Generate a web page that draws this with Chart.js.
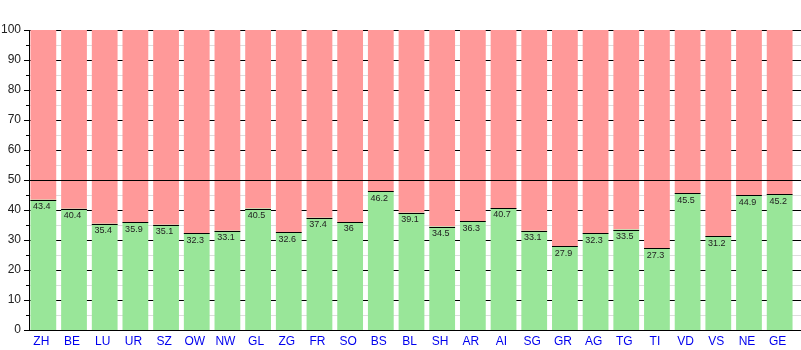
<!DOCTYPE html>
<html>
<head>
<meta charset="utf-8">
<script src="https://cdn.jsdelivr.net/npm/chart.js@4"></script>
<style>
  body { margin: 0; background: #fff; }
  canvas { display: block; }
</style>
</head>
<body>
<canvas id="chart" width="801" height="350"></canvas>
<script>
const cantons = ["ZH", "BE", "LU", "UR", "SZ", "OW", "NW", "GL", "ZG", "FR", "SO", "BS", "BL",
  "SH", "AR", "AI", "SG", "GR", "AG", "TG", "TI", "VD", "VS", "NE", "GE"];
const yesShare = [43.4, 40.4, 35.4, 35.9, 35.1, 32.3, 33.1, 40.5, 32.6, 37.4, 36, 46.2, 39.1,
  34.5, 36.3, 40.7, 33.1, 27.9, 32.3, 33.5, 27.3, 45.5, 31.2, 44.9, 45.2];
const noShare = [56.6, 59.6, 64.6, 64.1, 64.9, 67.7, 66.9, 59.5, 67.4, 62.6, 64, 53.8, 60.9,
  65.5, 63.7, 59.3, 66.9, 72.1, 67.7, 66.5, 72.7, 54.5, 68.8, 55.1, 54.8];
const yTicks = [0, 10, 20, 30, 40, 50, 60, 70, 80, 90, 100];
const threshold = 50;

const FONT = "'Liberation Sans', Arial, sans-serif";

// grid lines under the bars, running out to the canvas edge
const gridPlugin = {
  id: "grid",
  beforeDatasetsDraw(chart) {
    const { ctx, chartArea, scales } = chart;
    const y = scales.y;
    const axisX = chartArea.left + 1;
    ctx.save();
    ctx.lineWidth = 1;
    for (let v = 0; v <= 100; v += 5) {
      const py = Math.round(y.getPixelForValue(v)) + 0.5;
      const major = yTicks.includes(v);
      ctx.strokeStyle = major ? "#000" : "#dddddd";
      ctx.beginPath();
      ctx.moveTo(axisX, py);
      ctx.lineTo(chart.width, py);
      ctx.stroke();
      ctx.strokeStyle = "#000";
      ctx.beginPath();
      ctx.moveTo(axisX - (major ? 5 : 3), py);
      ctx.lineTo(axisX, py);
      ctx.stroke();
    }
    ctx.restore();
  },
  afterDatasetsDraw(chart) {
    const { ctx, chartArea, scales } = chart;
    const axisX = chartArea.left + 1;
    ctx.save();
    ctx.strokeStyle = "#000";
    ctx.lineWidth = 1;

    // y axis line
    ctx.beginPath();
    ctx.moveTo(Math.round(axisX) + 0.5, Math.round(scales.y.getPixelForValue(100)));
    ctx.lineTo(Math.round(axisX) + 0.5, Math.round(scales.y.getPixelForValue(0)) + 1);
    ctx.stroke();

    // 50% line and base line over the bars
    [threshold, 0].forEach((v) => {
      const py = Math.round(scales.y.getPixelForValue(v)) + 0.5;
      ctx.beginPath();
      ctx.moveTo(axisX, py);
      ctx.lineTo(chart.width, py);
      ctx.stroke();
    });

    // black cap on each green bar + value label under it
    const meta = chart.getDatasetMeta(0);
    ctx.font = "9px " + FONT;
    ctx.fillStyle = "#222";
    ctx.textAlign = "center";
    ctx.textBaseline = "middle";
    meta.data.forEach((bar, i) => {
      const top = Math.round(bar.y) + 0.5;
      ctx.beginPath();
      ctx.moveTo(bar.x - bar.width / 2, top);
      ctx.lineTo(bar.x + bar.width / 2, top);
      ctx.stroke();
      ctx.fillText(String(yesShare[i]), bar.x - 1.5, bar.y + 7);
    });
    ctx.restore();
  },
};

new Chart(document.getElementById("chart"), {
  type: "bar",
  data: {
    labels: cantons,
    datasets: [
      {
        label: "Ja",
        data: yesShare,
        backgroundColor: "#99e699",
        borderWidth: 0,
        categoryPercentage: 1,
        barPercentage: 0.84,
      },
      {
        label: "Nein",
        data: noShare,
        backgroundColor: "#ff9999",
        borderWidth: 0,
        categoryPercentage: 1,
        barPercentage: 0.84,
      },
    ],
  },
  options: {
    responsive: false,
    animation: false,
    layout: { padding: { top: 30, right: 6, left: 0, bottom: 0 } },
    plugins: {
      legend: { display: false },
      tooltip: { enabled: false },
    },
    scales: {
      x: {
        stacked: true,
        grid: { display: false, drawTicks: false },
        border: { display: false },
        ticks: {
          color: "#0000ee",
          font: { family: FONT, size: 12 },
          padding: 4,
          labelOffset: -2,
          maxRotation: 0,
          autoSkip: false,
        },
        afterFit: (scale) => { scale.height = 20; },
      },
      y: {
        stacked: true,
        min: 0,
        max: 100,
        grid: { display: false, drawTicks: false },
        border: { display: false },
        ticks: {
          stepSize: 10,
          color: "#222",
          font: { family: FONT, size: 12 },
          padding: 7,
        },
        afterFit: (scale) => { scale.width = 28; },
      },
    },
  },
  plugins: [gridPlugin],
});
</script>
</body>
</html>
